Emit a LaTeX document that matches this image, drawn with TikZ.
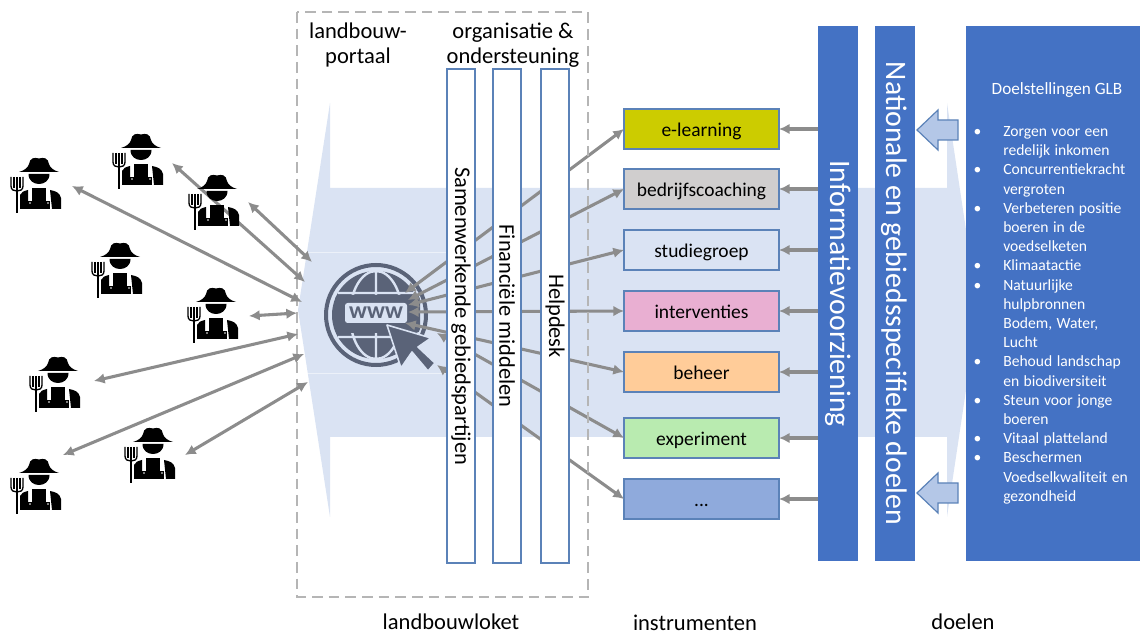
\documentclass[tikz,border=0pt]{standalone}
\usepackage{fontspec}
\setmainfont{Carlito}
\usepackage{xcolor}
\definecolor{m_band}{HTML}{DAE3F3}
\definecolor{m_lijn}{HTML}{5B82B8}
\definecolor{m_blauw}{HTML}{4472C4}
\definecolor{m_pijl}{HTML}{8C8C8C}
\definecolor{m_stip}{HTML}{B5B5B5}
\definecolor{m_www}{HTML}{5A6378}
\definecolor{m_blok}{HTML}{B4C7E7}
\definecolor{m_geel}{HTML}{CCCC00}
\definecolor{m_grijs}{HTML}{D0CECE}
\definecolor{m_roze}{HTML}{E9AFD2}
\definecolor{m_oranje}{HTML}{FFCC99}
\definecolor{m_groen}{HTML}{B9EBB0}
\definecolor{m_paars}{HTML}{8FAADC}
\usetikzlibrary{positioning,arrows.meta}

\tikzset{
    farmer/.pic={
        \fill[black] (9,15) .. controls (14,13.5) and (18,11) .. (19,7) .. controls (20,1) and (24,0) .. (29,1.5)
            .. controls (34,0) and (38,1) .. (39,7) .. controls (40,11) and (44,13.5) .. (49,15) -- cycle;
        \fill[black] (18.5,17) .. controls (18.5,24) and (24,27) .. (29,27) .. controls (34,27) and (39.5,24) .. (39.5,17) -- cycle;
        \fill[black] (22,31) rectangle (36,52);
        \fill[black] (18,44) rectangle (40,52);
        \fill[black] (10,52) -- (10,38) .. controls (11,35) and (14,34) .. (18,33) -- (18,52) -- cycle;
        \fill[black] (40,33) .. controls (46,34) and (50,36) .. (51,41) -- (51,52) -- (42,52) -- cycle;
        \fill[white] (20,46) circle (.9) (38,46) circle (.9);
        \draw[black,line width=1.5pt] (7,20) -- (7,56);
        \draw[black,line width=1pt] (1,20) -- (1,29) .. controls (1,33) and (4,34) .. (7,34) .. controls (10,34) and (13,33) .. (13,29) -- (13,20);
        \draw[black,line width=1pt] (4,20) -- (4,31) (10,20) -- (10,31);
    },
    blokpijl/.pic={
        \draw[draw=m_lijn,fill=m_blok,line width=.9pt] (0,0) -- (21,-20) -- (21,-10) -- (41,-10) -- (41,10) -- (21,10) -- (21,20) -- cycle;
    },
    instrument/.style={draw=m_lijn,line width=.9pt,outer sep=0pt,minimum width=116.25pt,minimum height=30pt,inner sep=0pt,text height=12.5pt,text depth=1.5pt,font=\fontsize{14.6}{17}\selectfont},
    balk/.style={draw=m_lijn,fill=white,line width=.9pt,rotate=-90,minimum width=370.5pt,minimum height=21pt,inner sep=0pt,font=\fontsize{16.8}{19}\selectfont},
    blauwbalk/.style={fill=m_blauw,text=white,rotate=-90,minimum width=401.25pt,minimum height=30pt,inner sep=0pt,font=\fontsize{22.3}{25}\selectfont},
    kop/.style={align=center,inner sep=0pt,font=\fontsize{16.9}{18.75}\selectfont},
    onderkop/.style={inner sep=0pt,font=\fontsize{16.9}{18.75}\selectfont},
    pijl/.style={draw=m_pijl,line width=2.3pt,-{Latex[length=8pt,width=8pt]}},
    dubbelpijl/.style={draw=m_pijl,line width=2.3pt,{Latex[length=8pt,width=8pt]}-{Latex[length=8pt,width=8pt]}}
}

\begin{document}
\begin{tikzpicture}[x=.75pt,y=-.75pt]
    \useasboundingbox (0,0) rectangle (1140,634);

    % brede pijl op de achtergrond
    \fill[m_band] (298,310) -- (330,103) -- (330,188) -- (947,188) -- (947,103) -- (978,310)
        -- (947,517) -- (947,437) -- (330,437) -- (330,517) -- cycle;
    \draw[white,opacity=.5,line width=.6pt] (305,252) -- (450,252) (305,373) -- (450,373);

    % www
    \draw[m_www,line width=3pt] (376,315) circle (50);
    \fill[m_www] (376,315) circle (44);
    \draw[m_band,line width=1.8pt] (376,271) -- (376,359) (376,315) ellipse (26 and 44)
        (338,293) -- (414,293) (338,337) -- (414,337);
    \fill[m_www,rounded corners=3pt] (335,295) rectangle (420,333);
    \fill[m_band,rounded corners=2pt] (345,303) rectangle (407,323);
    \node[inner sep=0pt,text=m_www,font=\fontsize{18}{20}\bfseries\selectfont] (wwwtekst) at (376,313) {www};
    \draw[m_band,fill=m_www,line width=1.2pt,line join=round] (387,325) -- (401,368) -- (412,352) -- (428,371)
        -- (435,363) -- (418,347) -- (431,338) -- cycle;

    \coordinate (www1) at (405,293);
    \coordinate (www2) at (408,300);
    \coordinate (www3) at (408,305);
    \coordinate (www4) at (408,312);
    \coordinate (www5) at (405,323);
    \coordinate (www6) at (437,333);
    \coordinate (www7) at (437,365);

    % instrumenten
    \node[instrument,fill=m_geel,anchor=north west] (elearning) at (624,109) {e-learning};
    \node[instrument,fill=m_grijs,below=15pt of elearning] (coaching) {bedrijfscoaching};
    \node[instrument,fill=m_band,below=15.75pt of coaching] (studie) {studiegroep};
    \node[instrument,fill=m_roze,below=15.75pt of studie] (interventie) {interventies};
    \node[instrument,fill=m_oranje,below=15.75pt of interventie] (beheer) {beheer};
    \node[instrument,fill=m_groen,below=19.5pt of beheer] (experiment) {experiment};
    \node[instrument,fill=m_paars,below=15.75pt of experiment] (overig) {...};

    \draw[dubbelpijl] (www1) -- (elearning.west);
    \draw[dubbelpijl] (www2) -- (coaching.west);
    \draw[dubbelpijl] (www3) -- (studie.west);
    \draw[dubbelpijl] (www4) -- (interventie.west);
    \draw[dubbelpijl] (www5) -- (beheer.west);
    \draw[dubbelpijl] (www6) -- (experiment.west);
    \draw[dubbelpijl] (www7) -- (overig.west);

    \draw[m_stip,line width=1.6pt,dash pattern=on 8pt off 4.5pt] (297,12) rectangle (588,597);

    % staande balken
    \node[balk] (samen) at (461,316) {Samenwerkende gebiedspartijen};
    \node[balk] (financien) at (507,316) {Financiële middelen};
    \node[balk] (helpdesk) at (555,316) {Helpdesk};

    \node[blauwbalk] (info) at (838,293.5) {Informatievoorziening};
    \node[blauwbalk] (nationaal) at (894.5,293.5) {Nationale en gebiedsspecifieke doelen};

    \draw[pijl] (elearning -| info.south) -- (elearning.east);
    \draw[pijl] (coaching -| info.south) -- (coaching.east);
    \draw[pijl] (studie -| info.south) -- (studie.east);
    \draw[pijl] (interventie -| info.south) -- (interventie.east);
    \draw[pijl] (beheer -| info.south) -- (beheer.east);
    \draw[pijl] (experiment -| info.south) -- (experiment.east);
    \draw[pijl] (overig -| info.south) -- (overig.east);

    % doelstellingen
    \node[fill=m_blauw,minimum width=130.5pt,minimum height=401.25pt,inner sep=0pt] (doel) at (1053,293.5) {};
    \node[inner sep=0pt,text=white,font=\fontsize{12.9}{15}\selectfont] (doelkop) at (1057,90) {Doelstellingen GLB};
    \node[inner sep=0pt,text=white,text width=120pt,anchor=north west] (doellijst) at (978,117) {\fontsize{11.7}{14.4}\selectfont
        \begin{list}{\textbullet}{\setlength{\labelwidth}{18.75pt}\setlength{\labelsep}{0pt}\setlength{\leftmargin}{18.75pt}%
            \setlength{\itemsep}{0pt}\setlength{\parsep}{0pt}\setlength{\topsep}{0pt}\setlength{\partopsep}{0pt}\setlength{\rightmargin}{-10pt}%
            \renewcommand{\makelabel}[1]{\hspace*{-3.5pt}#1\hfil}}
        \item Zorgen voor een\newline redelijk inkomen
        \item Concurrentiekracht\newline vergroten
        \item Verbeteren positie\newline boeren in de\newline voedselketen
        \item Klimaatactie
        \item Natuurlijke\newline hulpbronnen\newline Bodem, Water,\newline Lucht
        \item Behoud landschap\newline en biodiversiteit
        \item Steun voor jonge\newline boeren
        \item Vitaal platteland
        \item Beschermen\newline Voedselkwaliteit en\newline gezondheid
        \end{list}};

    \pic at (917,130) {blokpijl};
    \pic at (917,493) {blokpijl};

    % boeren
    \coordinate (boer1) at (72,186);
    \coordinate (poort1) at (302,302);
    \coordinate (boer2) at (172,163);
    \coordinate (poort2) at (305,282);
    \coordinate (boer3) at (248,202);
    \coordinate (poort3) at (312,262);
    \coordinate (boer4) at (249,316);
    \coordinate (poort4) at (297,313);
    \coordinate (boer5) at (94,381);
    \coordinate (poort5) at (298,334);
    \coordinate (boer6) at (63,455);
    \coordinate (poort6) at (304,354);
    \coordinate (boer7) at (185,455);
    \coordinate (poort7) at (308,382);
    \draw[dubbelpijl] (boer1) -- (poort1);
    \draw[dubbelpijl] (boer2) -- (poort2);
    \draw[dubbelpijl] (boer3) -- (poort3);
    \draw[dubbelpijl] (boer4) -- (poort4);
    \draw[dubbelpijl] (boer5) -- (poort5);
    \draw[dubbelpijl] (boer6) -- (poort6);
    \draw[dubbelpijl] (boer7) -- (poort7);

    \pic at (10,157) {farmer};
    \pic at (112,133) {farmer};
    \pic at (188,174) {farmer};
    \pic at (91,242) {farmer};
    \pic at (187,287) {farmer};
    \pic at (29,356) {farmer};
    \pic at (10,458) {farmer};
    \pic at (124,427) {farmer};

    % opschriften
    \node[kop] (portaal) at (358,45) {landbouw-\\portaal};
    \node[kop] (organisatie) at (513,45) {organisatie \&\\ondersteuning};
    \node[onderkop] (loket) at (451,622) {landbouwloket};
    \node[onderkop] (instrumenten) at (695,623) {instrumenten};
    \node[onderkop] (doelen) at (963,622) {doelen};
\end{tikzpicture}
\end{document}
